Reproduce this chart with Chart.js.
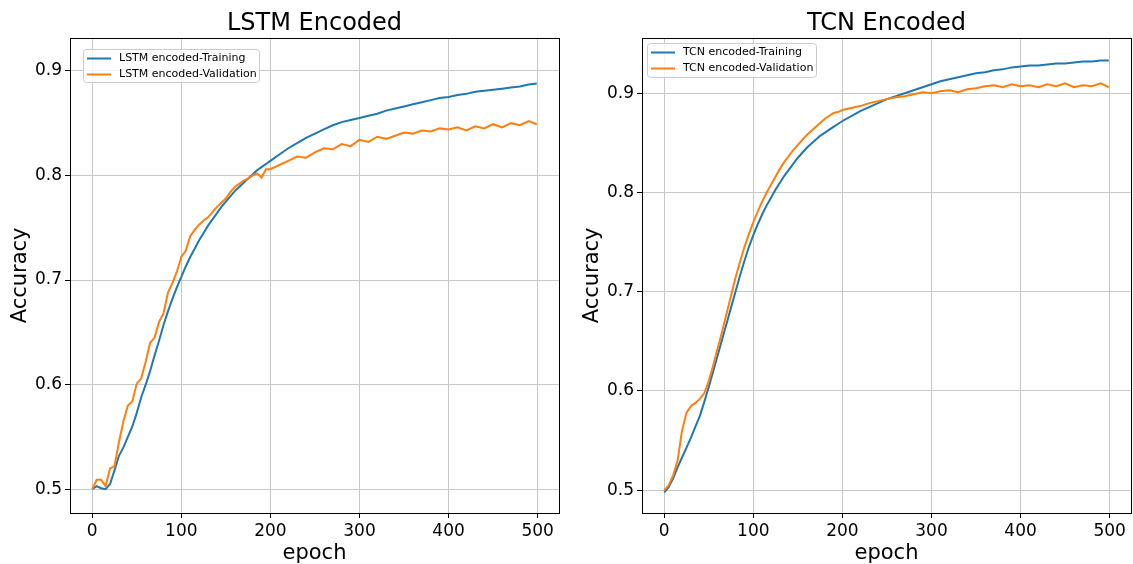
<!DOCTYPE html>
<html>
<head>
<meta charset="utf-8">
<script src="https://cdn.jsdelivr.net/npm/chart.js@4.4.0/dist/chart.umd.min.js"></script>
<style>
  html, body { margin: 0; padding: 0; background: #fff; }
  #wrap { position: relative; width: 1133px; height: 564px; }
  .panel { position: absolute; top: 0; height: 564px; }
  #p1 { left: 0; width: 566px; }
  #p2 { left: 566px; width: 567px; }
</style>
</head>
<body>
<div id="wrap">
  <div class="panel" id="p1"><canvas id="lstmChart"></canvas></div>
  <div class="panel" id="p2"><canvas id="tcnChart"></canvas></div>
</div>
<script>
// epochs
const epochs = [0,5,10,15,20,25,30,35,40,45,50,55,60,65,70,75,80,85,90,95,100,
  105,110,115,120,125,130,135,140,145,150,155,160,165,170,175,180,185,190,195,200,
  210,220,230,240,250,260,270,280,290,300,310,320,330,340,350,360,370,380,390,400,
  410,420,430,440,450,460,470,480,490,499];

const lstmTrain = [.500,.503,.501,.500,.505,.518,.532,.540,.550,.560,.573,.588,.600,.613,.628,.642,.657,.670,.682,.693,.703,
  .713,.722,.730,.738,.745,.752,.758,.764,.770,.775,.780,.785,.789,.793,.797,.801,.805,.808,.811,.814,
  .820,.826,.831,.836,.840,.844,.848,.851,.853,.855,.857,.859,.862,.864,.866,.868,.870,.872,.874,.875,
  .877,.878,.880,.881,.882,.883,.884,.885,.887,.888];

const lstmVal = [.500,.509,.509,.503,.520,.522,.545,.565,.580,.584,.601,.606,.622,.640,.645,.660,.668,.688,.697,.708,.722,
  .728,.742,.748,.753,.757,.760,.765,.770,.774,.778,.784,.789,.792,.795,.797,.800,.802,.798,.806,.806,
  .810,.814,.818,.817,.822,.826,.825,.830,.828,.834,.832,.837,.835,.838,.841,.840,.843,.842,.845,.844,
  .846,.843,.847,.845,.849,.846,.850,.848,.852,.849];

const tcnTrain = [.498,.503,.512,.523,.533,.543,.553,.564,.575,.589,.604,.620,.636,.652,.668,.684,.700,.716,.731,.745,.757,
  .768,.778,.787,.795,.803,.810,.817,.823,.829,.835,.840,.845,.849,.853,.857,.860,.863,.866,.869,.872,
  .877,.882,.886,.890,.894,.897,.900,.903,.906,.909,.912,.914,.916,.918,.920,.921,.923,.924,.926,.927,
  .928,.928,.929,.930,.930,.931,.932,.932,.933,.933];

const tcnVal = [.500,.505,.515,.530,.560,.578,.585,.588,.592,.598,.610,.626,.643,.660,.678,.696,.714,.730,.745,.758,.770,
  .781,.791,.800,.808,.816,.824,.831,.837,.843,.848,.853,.858,.862,.866,.870,.874,.877,.880,.881,.883,
  .885,.887,.890,.892,.894,.896,.897,.899,.901,.900,.902,.903,.901,.904,.905,.907,.908,.906,.909,.907,
  .908,.906,.909,.907,.910,.906,.908,.907,.910,.906];

const xTicks = [0, 100, 200, 300, 400, 500];
const lstmYTicks = [0.5, 0.6, 0.7, 0.8, 0.9];
const tcnYTicks = [0.5, 0.6, 0.7, 0.8, 0.9];

const BLUE = '#1f77b4';
const ORANGE = '#ff7f0e';

Chart.defaults.font.family = "'DejaVu Sans', sans-serif";
Chart.defaults.color = '#000';

// matplotlib style box around the axes
const framePlugin = {
  id: 'frame',
  afterDatasetsDraw(chart) {
    const a = chart.chartArea, ctx = chart.ctx;
    ctx.save();
    ctx.strokeStyle = '#000';
    ctx.lineWidth = 1;
    ctx.strokeRect(Math.round(a.left) + 0.5, Math.round(a.top) + 0.5,
      Math.round(a.right - a.left), Math.round(a.bottom - a.top));
    ctx.restore();
  }
};

// legend box drawn inside the plot area (upper left)
const boxLegend = {
  id: 'boxLegend',
  afterDraw(chart, args, opts) {
    const ctx = chart.ctx;
    const { x, y, w, h } = opts;
    ctx.save();
    ctx.beginPath();
    ctx.roundRect(x + 0.5, y + 0.5, w, h, 3);
    ctx.fillStyle = 'rgba(255,255,255,0.8)';
    ctx.fill();
    ctx.strokeStyle = '#cccccc';
    ctx.lineWidth = 1;
    ctx.stroke();
    ctx.font = "11px 'DejaVu Sans'";
    ctx.textBaseline = 'middle';
    chart.data.datasets.forEach((ds, i) => {
      const ly = y + 9.5 + i * 16;
      ctx.strokeStyle = ds.borderColor;
      ctx.lineWidth = 2;
      ctx.beginPath();
      ctx.moveTo(x + 4, ly);
      ctx.lineTo(x + 28, ly);
      ctx.stroke();
      ctx.fillStyle = '#000';
      ctx.fillText(ds.label, x + 36, ly);
    });
    ctx.restore();
  }
};

function makeChart(id, title, prefix, train, val, yMin, yMax, yTicks, pad, legendBox) {
  const ctx = document.getElementById(id).getContext('2d');
  return new Chart(ctx, {
    type: 'line',
    data: {
      datasets: [
        { label: prefix + '-Training', data: epochs.map((e, i) => ({ x: e, y: train[i] })),
          borderColor: BLUE, borderWidth: 2, pointRadius: 0, tension: 0, order: 1 },
        { label: prefix + '-Validation', data: epochs.map((e, i) => ({ x: e, y: val[i] })),
          borderColor: ORANGE, borderWidth: 2, pointRadius: 0, tension: 0, order: 0 }
      ]
    },
    options: {
      responsive: true,
      maintainAspectRatio: false,
      animation: false,
      layout: { padding: pad },
      plugins: {
        legend: { display: false },
        tooltip: { enabled: false },
        title: { display: true, text: title, fullSize: false, color: '#000',
          font: { size: 24, weight: 'normal' }, padding: { top: 9, bottom: 0 } },
        boxLegend: legendBox
      },
      scales: {
        x: {
          type: 'linear', min: -24.95, max: 523.95,
          afterBuildTicks: s => { s.ticks = xTicks.map(v => ({ value: v })); },
          afterFit: s => { s.height = 51; },
          ticks: { font: { size: 17 }, color: '#000', padding: 3, maxRotation: 0 },
          grid: { color: '#c8c8c8', lineWidth: 1, tickColor: '#000', tickLength: 5 },
          border: { display: false },
          title: { display: true, text: 'epoch', font: { size: 21 }, color: '#000', padding: { top: 0, bottom: -2 } }
        },
        y: {
          type: 'linear', min: yMin, max: yMax,
          afterBuildTicks: s => { s.ticks = yTicks.map(v => ({ value: v })); },
          afterFit: s => { s.width = 70; },
          ticks: { font: { size: 17 }, color: '#000', padding: 3, callback: v => v.toFixed(1) },
          grid: { color: '#c8c8c8', lineWidth: 1, tickColor: '#000', tickLength: 5 },
          border: { display: false },
          title: { display: true, text: 'Accuracy', font: { size: 21 }, color: '#000', padding: { top: 8, bottom: 0 } }
        }
      }
    },
    plugins: [framePlugin, boxLegend]
  });
}

makeChart('lstmChart', 'LSTM Encoded', 'LSTM encoded', lstmTrain, lstmVal,
  0.4773, 0.9316, lstmYTicks, { left: 0, right: 7, top: 0, bottom: 0 },
  { x: 83, y: 49, w: 176, h: 33 });

makeChart('tcnChart', 'TCN Encoded', 'TCN encoded', tcnTrain, tcnVal,
  0.4771, 0.9558, tcnYTicks, { left: 6, right: 2, top: 0, bottom: 0 },
  { x: 81, y: 43, w: 169, h: 34 });
</script>
</body>
</html>
